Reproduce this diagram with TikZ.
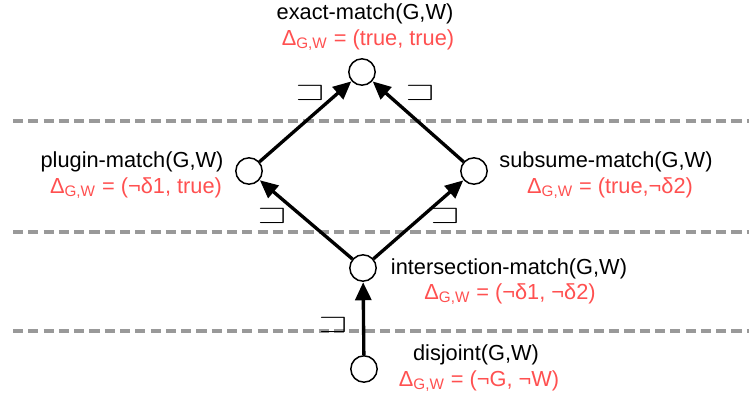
\documentclass[tikz,border=0pt]{standalone}
\usepackage{fontspec}
\setmainfont{Liberation Sans}
\usepackage{amssymb}
\usetikzlibrary{arrows.meta}
\definecolor{Ink}{HTML}{000000}
\definecolor{Rule}{HTML}{999999}
\definecolor{Delta}{HTML}{FF5050}
\newcommand{\dgw}{Δ\textsubscript{G,W}}
\newcommand{\sqs}{\scalebox{1.4}[1]{$\sqsupset$}}
\tikzset{
  matchnode/.style={circle,draw=Ink,line width=0.85pt,fill=white,minimum size=15pt,inner sep=0pt},
  matchname/.style={font=\fontsize{12.4}{14}\selectfont,text=Ink,inner sep=0pt},
  rel/.style={font=\fontsize{12.4}{14}\selectfont,text=Delta,inner sep=0pt},
  arr/.style={-{Triangle[length=3.6mm,width=3.2mm]},line width=1.9pt,draw=Ink,shorten >=0.2pt},
  ord/.style={font=\fontsize{15}{15}\selectfont,inner sep=0pt},
  level/.style={draw=Rule,line width=2pt,dash pattern=on 5.8pt off 2.9pt},
}
\begin{document}
\begin{tikzpicture}[x=0.02cm,y=-0.02cm]
\useasboundingbox (0,0) rectangle (749,398);
% level separators
\draw[level] (13,121) -- (749,121);
\draw[level] (13,232) -- (749,232);
\draw[level] (13,331) -- (749,331);
% match states
\node[matchnode] (exact) at (362,72) {};
\node[matchnode] (plugin) at (249,171) {};
\node[matchnode] (subsume) at (474,171) {};
\node[matchnode] (inter) at (363,268) {};
\node[matchnode] (disj) at (364,369) {};
% labels
\node[matchname] (exactname) at (365,14) {exact-match(G,W)};
\node[rel] (exactrel) at (368,40) {\dgw{} = (true, true)};
\node[matchname] (pluginname) at (132,162) {plugin-match(G,W)};
\node[rel] (pluginrel) at (136,188) {\dgw{} = (¬δ1, true)};
\node[matchname] (subsumename) at (606,162) {subsume-match(G,W)};
\node[rel] (subsumerel) at (610,188) {\dgw{} = (true,¬δ2)};
\node[matchname] (intername) at (509,269) {intersection-match(G,W)};
\node[rel] (interrel) at (510,294) {\dgw{} = (¬δ1, ¬δ2)};
\node[matchname] (disjname) at (476,355) {disjoint(G,W)};
\node[rel] (disjrel) at (479,381) {\dgw{} = (¬G, ¬W)};
% subsumption order
\draw[arr] (plugin) -- (exact);
\draw[arr] (subsume) -- (exact);
\draw[arr] (inter) -- (plugin);
\draw[arr] (inter) -- (subsume);
\draw[arr] (disj) -- (inter);
\node[ord] (o1) at (310,93) {\sqs};
\node[ord] (o2) at (420,93) {\sqs};
\node[ord] (o3) at (272,216) {\sqs};
\node[ord] (o4) at (445,216) {\sqs};
\node[ord] (o5) at (333,325) {\sqs};
\end{tikzpicture}
\end{document}
